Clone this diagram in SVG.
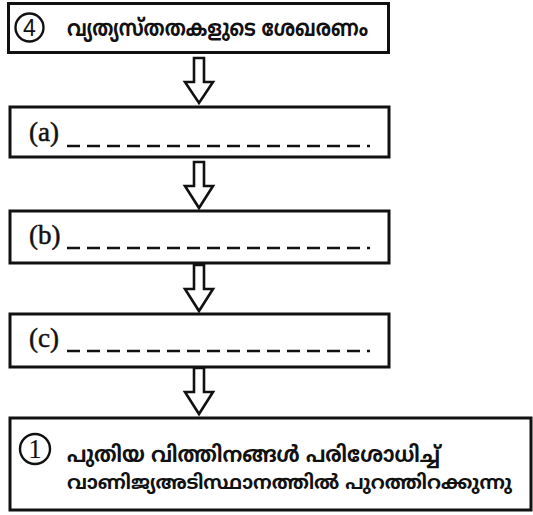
<svg xmlns="http://www.w3.org/2000/svg" width="533" height="515" viewBox="0 0 533 515">
<style>
.box{fill:#fff;stroke:#111;stroke-width:3}
.circ{fill:#fff;stroke:#111;stroke-width:2.4}
.arrow{fill:#fff;stroke:#111;stroke-width:2.6;stroke-linejoin:miter}
.ml{font-family:"Noto Sans Malayalam","Noto Serif Malayalam","Noto Sans",sans-serif;font-weight:bold;fill:#111}
.lbl{font-family:"Liberation Serif","Times New Roman",serif;font-size:27px;fill:#111;stroke:#111;stroke-width:0.5}
.num{font-family:"Liberation Sans",Arial,sans-serif;font-size:23px;fill:#111;text-anchor:middle}
.numS{font-family:"Liberation Serif",serif;font-size:27px;fill:#111;text-anchor:middle}
.dash{stroke:#111;stroke-width:2.4;stroke-dasharray:13 7;fill:none}
</style>
<rect width="533" height="515" fill="#fff"/>
<g id="node4">
<rect class="box" x="8.5" y="3.5" width="380" height="49"/>
<circle class="circ" cx="29.5" cy="27.5" r="14"/>
<text class="num" x="29.5" y="35.5">4</text>
<text class="ml" x="67" y="36" font-size="23" textLength="301" lengthAdjust="spacingAndGlyphs">വ്യത്യസ്തതകളുടെ ശേഖരണം</text>
</g>
<g id="nodeA">
<rect class="box" x="10" y="107" width="379" height="50"/>
<text class="lbl" x="29" y="141">(a)</text>
<line class="dash" x1="67" y1="146" x2="370" y2="146"/>
</g>
<g id="nodeB">
<rect class="box" x="10" y="211" width="379" height="52"/>
<text class="lbl" x="29" y="244">(b)</text>
<line class="dash" x1="67" y1="248" x2="370" y2="248"/>
</g>
<g id="nodeC">
<rect class="box" x="10" y="314" width="379" height="53"/>
<text class="lbl" x="29" y="347">(c)</text>
<line class="dash" x1="67" y1="351" x2="370" y2="351"/>
</g>
<g id="node1">
<rect class="box" x="10" y="418" width="521" height="92"/>
<circle class="circ" cx="35" cy="449" r="15"/>
<text class="numS" x="35" y="458">1</text>
<text class="ml" x="67" y="462" font-size="22" textLength="373" lengthAdjust="spacingAndGlyphs">പുതിയ വിത്തിനങ്ങൾ പരിശോധിച്ച്</text>
<text class="ml" x="67" y="489" font-size="19.5" textLength="445" lengthAdjust="spacingAndGlyphs">വാണിജ്യഅടിസ്ഥാനത്തിൽ പുറത്തിറക്കുന്നു</text>
</g>
<g id="connectors">
<polygon class="arrow" points="194,58 204,58 204,82 213,82 199,103 185,82 194,82"/>
<polygon class="arrow" points="194,162 204,162 204,186 213,186 199,208 185,186 194,186"/>
<polygon class="arrow" points="194,265 204,265 204,289 213,289 199,311 185,289 194,289"/>
<polygon class="arrow" points="194,368 204,368 204,392 213,392 199,414 185,392 194,392"/>
</g>
</svg>
